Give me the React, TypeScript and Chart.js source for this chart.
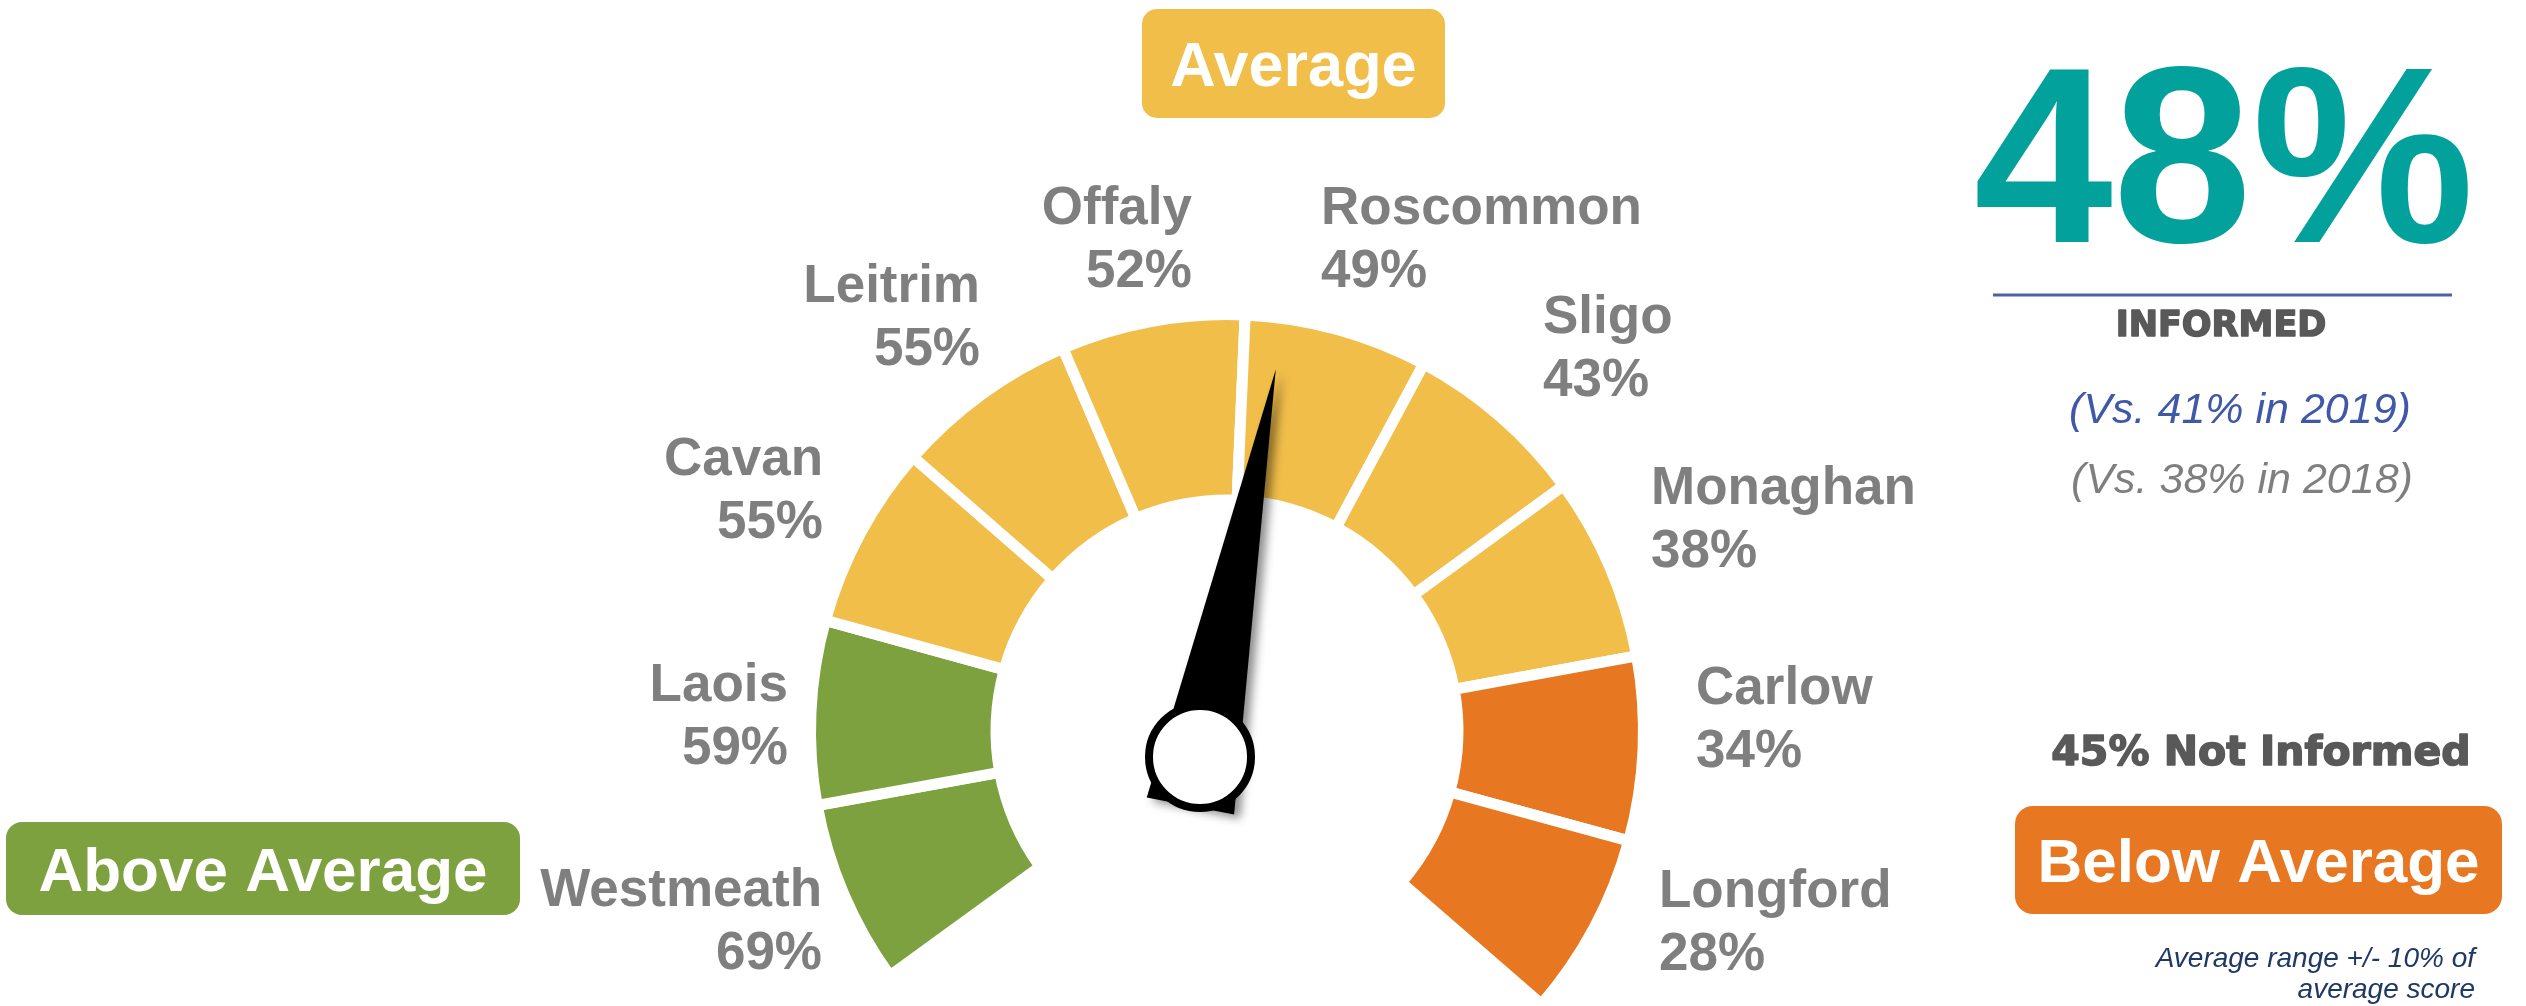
import React, { useEffect, useRef } from 'react';
import { Chart, registerables } from 'chart.js';

Chart.register(...registerables);

// ---------------- data ----------------
const COUNTIES = ['Westmeath', 'Laois', 'Cavan', 'Leitrim', 'Offaly', 'Roscommon', 'Sligo', 'Monaghan', 'Carlow', 'Longford'];
const SCORES = [69, 59, 55, 55, 52, 49, 43, 38, 34, 28];
const SEGMENT_SIZES = [1, 1, 1, 1, 1, 1, 1, 1, 1, 1];
const OVERALL_INFORMED = 48;
const NOT_INFORMED = 45;
const PREVIOUS_YEARS = [2019, 2018];
const PREVIOUS_SCORES = [41, 38];
const AVERAGE_BAND = 10; // +/- points around the average
const NEEDLE_SCALE = [80, 20]; // needle scale value at the left end and the right end of the arc
const BAND_TITLES = ['Above Average', 'Average', 'Below Average'];

// ---------------- layout / style ----------------
const W = 2526;
const H = 1006;
const CX = 1227;
const CY = 731;
const OUTER_R = 411;
const INNER_R = 236.5;
const GAP = 11;
const ROTATION = -126;
const CIRCUMFERENCE = 257;

const GREEN = '#7EA140';
const YELLOW = '#F1BE4A';
const ORANGE = '#E87722';
const TEAL = '#03A19C';
const LABEL_GREY = '#7F7F7F';
const DARK_GREY = '#595959';
const BLUE = '#3F58A7';
const NAVY = '#1F3864';

const SANS = '"Liberation Sans", Arial, sans-serif';
const HEAVY = '"DejaVu Sans", "Liberation Sans", sans-serif';

// label anchors relative to the gauge centre: [dx of text edge, dy of name baseline, align]
const LABEL_LAYOUT: [number, number, CanvasTextAlign][] = [
  [-405, 175, 'right'],
  [-439, -30, 'right'],
  [-404, -256, 'right'],
  [-247, -429, 'right'],
  [-35, -507, 'right'],
  [94, -507, 'left'],
  [316, -398, 'left'],
  [424, -227, 'left'],
  [469, -27, 'left'],
  [432, 176, 'left'],
];
const LABEL_FONT = 53;
const LABEL_LINE = 63;

const HUB_OFFSET = [-27, 26];

function bandOf(score: number): number {
  if (score > OVERALL_INFORMED + AVERAGE_BAND) return 0;
  if (score < OVERALL_INFORMED - AVERAGE_BAND) return 2;
  return 1;
}
const BAND_COLORS = [GREEN, YELLOW, ORANGE];

function roundRectPath(ctx: CanvasRenderingContext2D, x: number, y: number, w: number, h: number, r: number) {
  ctx.beginPath();
  ctx.moveTo(x + r, y);
  ctx.lineTo(x + w - r, y);
  ctx.arcTo(x + w, y, x + w, y + r, r);
  ctx.lineTo(x + w, y + h - r);
  ctx.arcTo(x + w, y + h, x + w - r, y + h, r);
  ctx.lineTo(x + r, y + h);
  ctx.arcTo(x, y + h, x, y + h - r, r);
  ctx.lineTo(x, y + r);
  ctx.arcTo(x, y, x + r, y, r);
  ctx.closePath();
}

function drawBox(ctx: CanvasRenderingContext2D, x: number, y: number, w: number, h: number, r: number, color: string, text: string, size: number) {
  ctx.save();
  roundRectPath(ctx, x, y, w, h, r);
  ctx.fillStyle = color;
  ctx.fill();
  ctx.fillStyle = '#ffffff';
  ctx.font = `bold ${size}px ${SANS}`;
  ctx.textAlign = 'center';
  ctx.textBaseline = 'alphabetic';
  ctx.fillText(text, x + w / 2, y + h / 2 + size * 0.716 / 2);
  ctx.restore();
}

function heavyText(ctx: CanvasRenderingContext2D, text: string, x: number, y: number, weight: number) {
  ctx.fillText(text, x, y);
  ctx.lineWidth = weight;
  ctx.lineJoin = 'round';
  ctx.strokeStyle = ctx.fillStyle as string;
  ctx.strokeText(text, x, y);
}

const overlayPlugin = {
  id: 'gaugeOverlay',
  afterDatasetsDraw(chart: any) {
    const ctx: CanvasRenderingContext2D = chart.ctx;
    const meta = chart.getDatasetMeta(0);
    const arc0 = meta.data[0];
    const gx = arc0.x;
    const gy = arc0.y;

    // county labels
    ctx.save();
    ctx.fillStyle = LABEL_GREY;
    ctx.font = `bold ${LABEL_FONT}px ${SANS}`;
    ctx.textBaseline = 'alphabetic';
    COUNTIES.forEach((name, i) => {
      const [dx, dy, align] = LABEL_LAYOUT[i];
      ctx.textAlign = align;
      ctx.fillText(name, gx + dx, gy + dy);
      ctx.fillText(`${SCORES[i]}%`, gx + dx, gy + dy + LABEL_LINE);
    });
    ctx.restore();

    // needle
    const frac = (NEEDLE_SCALE[0] - OVERALL_INFORMED) / (NEEDLE_SCALE[0] - NEEDLE_SCALE[1]);
    const angDeg = ROTATION + frac * CIRCUMFERENCE;
    const a = (angDeg * Math.PI) / 180;
    const ux = Math.sin(a);
    const uy = -Math.cos(a);
    const px = Math.cos(a);
    const py = Math.sin(a);
    const hx = gx + HUB_OFFSET[0];
    const hy = gy + HUB_OFFSET[1];
    const tipLen = 395;
    const tailLen = 50;
    const halfBase = 44.5;
    ctx.save();
    ctx.shadowColor = 'rgba(0,0,0,0.45)';
    ctx.shadowBlur = 10;
    ctx.shadowOffsetX = 6;
    ctx.shadowOffsetY = 4;
    ctx.beginPath();
    ctx.moveTo(hx + ux * tipLen, hy + uy * tipLen);
    ctx.lineTo(hx - ux * tailLen + px * halfBase, hy - uy * tailLen + py * halfBase);
    ctx.lineTo(hx - ux * tailLen - px * halfBase, hy - uy * tailLen - py * halfBase);
    ctx.closePath();
    ctx.fillStyle = '#000000';
    ctx.fill();
    ctx.restore();

    ctx.save();
    ctx.beginPath();
    ctx.arc(hx, hy, 51, 0, Math.PI * 2);
    ctx.fillStyle = '#ffffff';
    ctx.fill();
    ctx.lineWidth = 8;
    ctx.strokeStyle = '#000000';
    ctx.stroke();
    ctx.restore();

    // band boxes
    drawBox(ctx, 1142, 9, 303, 109, 15, YELLOW, BAND_TITLES[1], 63);
    drawBox(ctx, 6, 822, 514, 93, 16, GREEN, BAND_TITLES[0], 62);
    drawBox(ctx, 2015, 806, 487, 108, 18, ORANGE, BAND_TITLES[2], 62);

    // headline
    ctx.save();
    ctx.textBaseline = 'alphabetic';
    ctx.textAlign = 'center';
    ctx.fillStyle = TEAL;
    ctx.font = `bold 250px ${SANS}`;
    ctx.fillText(`${OVERALL_INFORMED}%`, 2224, 242);

    ctx.strokeStyle = '#4A62A8';
    ctx.lineWidth = 3;
    ctx.beginPath();
    ctx.moveTo(1993, 295);
    ctx.lineTo(2452, 295);
    ctx.stroke();

    ctx.fillStyle = DARK_GREY;
    ctx.font = `bold 35px ${HEAVY}`;
    heavyText(ctx, 'INFORMED', 2221, 336, 1.6);

    ctx.font = `italic 43px ${SANS}`;
    ctx.fillStyle = BLUE;
    ctx.fillText(`(Vs. ${PREVIOUS_SCORES[0]}% in ${PREVIOUS_YEARS[0]})`, 2240, 423);
    ctx.fillStyle = LABEL_GREY;
    ctx.fillText(`(Vs. ${PREVIOUS_SCORES[1]}% in ${PREVIOUS_YEARS[1]})`, 2242, 493);

    ctx.fillStyle = DARK_GREY;
    ctx.font = `bold 41px ${HEAVY}`;
    heavyText(ctx, `${NOT_INFORMED}% Not Informed`, 2261, 765, 1.6);

    ctx.fillStyle = NAVY;
    ctx.font = `italic 28px ${SANS}`;
    ctx.textAlign = 'right';
    ctx.fillText(`Average range +/- ${AVERAGE_BAND}% of`, 2475, 967);
    ctx.fillText('average score', 2475, 998);
    ctx.restore();
  },
};

export default function App() {
  const canvasRef = useRef<HTMLCanvasElement | null>(null);

  useEffect(() => {
    const canvas = canvasRef.current;
    if (!canvas) return;

    const R = OUTER_R + GAP / 2;
    const cut = (INNER_R - GAP / 2) / R;
    const start = ((ROTATION - 90) * Math.PI) / 180;
    const end = start + (CIRCUMFERENCE * Math.PI) / 180;
    const maxY = Math.max(Math.sin(start), Math.sin(end), Math.sin(start) * cut, Math.sin(end) * cut);
    const offsetY = (1 - maxY) / 2;
    const areaCY = CY - offsetY * R;
    const topPad = Math.max(0, 2 * areaCY - H);
    const bottomPad = Math.max(0, H - 2 * areaCY);
    const rightPad = Math.max(0, W - 2 * CX);
    const leftPad = Math.max(0, 2 * CX - W);

    const colors = SCORES.map((s) => BAND_COLORS[bandOf(s)]);

    const chart = new Chart(canvas, {
      type: 'doughnut',
      data: {
        labels: COUNTIES,
        datasets: [
          {
            data: SEGMENT_SIZES,
            backgroundColor: colors,
            borderColor: '#ffffff',
            borderWidth: GAP,
            hoverOffset: 0,
            borderJoinStyle: 'miter',
          } as any,
        ],
      },
      options: {
        responsive: false,
        maintainAspectRatio: false,
        animation: false,
        devicePixelRatio: 1,
        events: [],
        radius: R,
        cutout: `${cut * 100}%`,
        rotation: ROTATION,
        circumference: CIRCUMFERENCE,
        layout: { padding: { left: leftPad, right: rightPad, top: topPad, bottom: bottomPad } },
        plugins: {
          legend: { display: false },
          tooltip: { enabled: false },
        },
      } as any,
      plugins: [overlayPlugin],
    });

    return () => chart.destroy();
  }, []);

  return (
    <div style={{ position: 'absolute', left: 0, top: 0, width: W, height: H, background: '#ffffff' }}>
      <canvas ref={canvasRef} width={W} height={H} style={{ display: 'block', width: W, height: H }} />
    </div>
  );
}
